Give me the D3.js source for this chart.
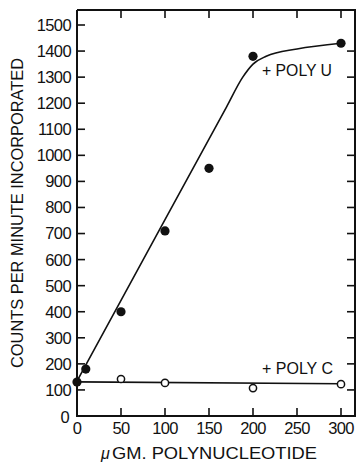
<!DOCTYPE html>
<html><head><meta charset="utf-8">
<script src="https://cdn.jsdelivr.net/npm/d3@7"></script>
<style>body{margin:0;background:#fff}text{font-family:"Liberation Sans",Arial,sans-serif;fill:#111}</style>
</head><body><svg id="c" width="358" height="467"></svg>
<script>
const polyUx = [0, 10, 50, 100, 150, 200, 300];
const polyUy = [130, 180, 400, 710, 950, 1380, 1430];
const polyCx = [0, 50, 100, 200, 300];
const polyCy = [130, 142, 127, 107, 122];
const fitUx = [0, 100, 170, 188, 200, 215, 250, 300];
const fitUy = [134, 753, 1186, 1298, 1350, 1380, 1408, 1430];
const fitCx = [0, 300];
const fitCy = [131, 124];
const xTicks = [0, 50, 100, 150, 200, 250, 300];
const yTicks = [0,100,200,300,400,500,600,700,800,900,1000,1100,1200,1300,1400,1500];

const svg = d3.select("#c");
const x = d3.scaleLinear().domain([0,300]).range([77,341]);
const y = d3.scaleLinear().domain([0,1500]).range([416,25]);
const x0 = 77, xR = 355, yB = 416, yT = 10;

svg.append("path").attr("d",`M${x0},${yT}V${yB}H${xR}V${yT}H${x0}`)
  .attr("fill","none").attr("stroke","#111").attr("stroke-width",2);

yTicks.forEach(v=>{
  svg.append("line").attr("x1",x0).attr("x2",x0+8).attr("y1",y(v)).attr("y2",y(v)).attr("stroke","#111").attr("stroke-width",1.6);
  if (v>0 && v<1500) svg.append("line").attr("x1",xR).attr("x2",xR-8).attr("y1",y(v)).attr("y2",y(v)).attr("stroke","#111").attr("stroke-width",1.6);
  svg.append("text").attr("x",v===0?69:71).attr("y",y(v)+(v===0?1:0)).attr("dy","0.36em")
    .attr("text-anchor","end").attr("font-size",16.5).attr("letter-spacing",-0.6).text(v);
});
xTicks.forEach(v=>{
  if (v>0) {
    svg.append("line").attr("x1",x(v)).attr("x2",x(v)).attr("y1",yB).attr("y2",yB-8).attr("stroke","#111").attr("stroke-width",1.6);
    svg.append("line").attr("x1",x(v)).attr("x2",x(v)).attr("y1",yT).attr("y2",yT+8).attr("stroke","#111").attr("stroke-width",1.6);
  }
  svg.append("text").attr("x",x(v)).attr("y",434).attr("text-anchor","middle")
    .attr("font-size",16.5).attr("letter-spacing",-0.6).text(v);
});

const line = d3.line().x(d=>x(d[0])).y(d=>y(d[1])).curve(d3.curveMonotoneX);
svg.append("path").attr("d",line(fitUx.map((v,i)=>[v,fitUy[i]])))
  .attr("fill","none").attr("stroke","#111").attr("stroke-width",1.6);
svg.append("path").attr("d",d3.line().x(d=>x(d[0])).y(d=>y(d[1]))(fitCx.map((v,i)=>[v,fitCy[i]])))
  .attr("fill","none").attr("stroke","#111").attr("stroke-width",1.6);

polyCx.forEach((v,i)=>{
  if (v===0) return;
  svg.append("circle").attr("cx",x(v)).attr("cy",y(polyCy[i])).attr("r",3.6)
    .attr("fill","#fff").attr("stroke","#111").attr("stroke-width",1.5);
});
polyUx.forEach((v,i)=>{
  svg.append("circle").attr("cx",x(v)).attr("cy",y(polyUy[i])).attr("r",4.6).attr("fill","#111");
});

svg.append("text").attr("x",262).attr("y",76).attr("font-size",16).attr("textLength",70).attr("lengthAdjust","spacingAndGlyphs").text("+ POLY U");
svg.append("text").attr("x",262).attr("y",374).attr("font-size",16).attr("textLength",71).attr("lengthAdjust","spacingAndGlyphs").text("+ POLY C");
svg.append("text").attr("transform","translate(23,213) rotate(-90)").attr("text-anchor","middle")
  .attr("font-size",16).attr("textLength",310).attr("lengthAdjust","spacingAndGlyphs").text("COUNTS PER MINUTE INCORPORATED");
svg.append("text").attr("x",101).attr("y",459).attr("font-size",16).attr("font-style","italic").text("μ");
svg.append("text").attr("x",112).attr("y",459).attr("font-size",16).attr("textLength",205).attr("lengthAdjust","spacingAndGlyphs")
  .text("GM. POLYNUCLEOTIDE");
</script></body></html>
